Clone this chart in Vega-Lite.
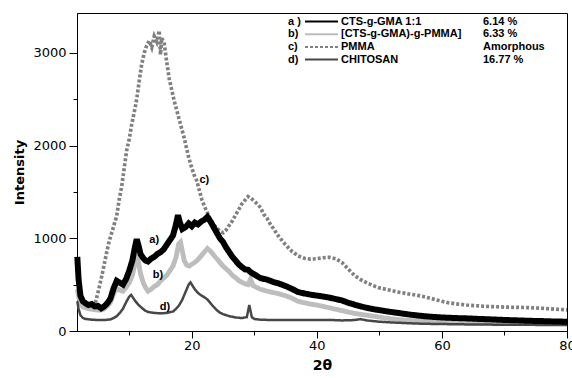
{
  "$schema": "https://vega.github.io/schema/vega-lite/v6.json",
  "width": 490,
  "height": 318,
  "autosize": {"type": "none"},
  "padding": {"left": 77, "top": 13, "right": 5, "bottom": 47},
  "background": "white",
  "config": {
    "view": {"stroke": "black", "strokeWidth": 1},
    "axis": {"grid": false, "domainColor": "black", "tickColor": "black", "labelColor": "black", "titleColor": "black", "labelFont": "DejaVu Sans", "labelFontSize": 13, "titleFont": "DejaVu Sans", "titleFontWeight": "bold"},
    "legend": {"labelFont": "Liberation Sans", "labelFontWeight": "bold", "labelFontSize": 11, "labelColor": "black", "padding": 0, "rowPadding": 0.7, "direction": "vertical", "labelLimit": 300}
  },
  "datasets": {
    "series": [
      {"s": "a", "name": "CTS-g-GMA 1:1", "pct": "6.14 %", "tag": "a )"},
      {"s": "b", "name": "[CTS-g-GMA)-g-PMMA]", "pct": "6.33  %", "tag": "b)"},
      {"s": "c", "name": "PMMA", "pct": "Amorphous", "tag": "c)"},
      {"s": "d", "name": "CHITOSAN", "pct": "16.77 %", "tag": "d)"}
    ],
    "curves": [
      {"s":"c","x":4.4,"y":250},{"s":"c","x":4.8,"y":360},{"s":"c","x":5.2,"y":470},{"s":"c","x":5.6,"y":590},{"s":"c","x":6.0,"y":720},{"s":"c","x":6.4,"y":850},{"s":"c","x":6.8,"y":970},{"s":"c","x":7.2,"y":1060},{"s":"c","x":7.6,"y":1150},{"s":"c","x":8.0,"y":1240},{"s":"c","x":8.4,"y":1420},{"s":"c","x":8.8,"y":1560},{"s":"c","x":9.2,"y":1760},{"s":"c","x":9.6,"y":1950},{"s":"c","x":10.0,"y":2070},{"s":"c","x":10.4,"y":2230},{"s":"c","x":10.8,"y":2360},{"s":"c","x":11.2,"y":2500},{"s":"c","x":11.6,"y":2700},{"s":"c","x":12.0,"y":2880},{"s":"c","x":12.4,"y":3000},{"s":"c","x":12.8,"y":3080},{"s":"c","x":13.2,"y":3130},{"s":"c","x":13.6,"y":3060},{"s":"c","x":14.0,"y":3180},{"s":"c","x":14.4,"y":3120},{"s":"c","x":14.8,"y":3240},{"s":"c","x":15.0,"y":2980},{"s":"c","x":15.2,"y":3160},{"s":"c","x":15.6,"y":3100},{"s":"c","x":16.0,"y":2900},{"s":"c","x":16.4,"y":2720},{"s":"c","x":16.8,"y":2600},{"s":"c","x":17.2,"y":2480},{"s":"c","x":17.6,"y":2380},{"s":"c","x":18.0,"y":2280},{"s":"c","x":18.4,"y":2180},{"s":"c","x":18.8,"y":2080},{"s":"c","x":19.2,"y":1960},{"s":"c","x":19.6,"y":1850},{"s":"c","x":20.0,"y":1760},{"s":"c","x":20.4,"y":1680},{"s":"c","x":20.8,"y":1620},{"s":"c","x":21.2,"y":1520},{"s":"c","x":21.6,"y":1420},{"s":"c","x":22.0,"y":1350},{"s":"c","x":22.4,"y":1290},{"s":"c","x":22.8,"y":1230},{"s":"c","x":23.2,"y":1180},{"s":"c","x":23.6,"y":1140},{"s":"c","x":24.0,"y":1110},{"s":"c","x":24.5,"y":1080},{"s":"c","x":25.0,"y":1060},{"s":"c","x":25.5,"y":1090},{"s":"c","x":26.0,"y":1140},{"s":"c","x":26.5,"y":1190},{"s":"c","x":27.0,"y":1250},{"s":"c","x":27.5,"y":1310},{"s":"c","x":28.0,"y":1370},{"s":"c","x":28.5,"y":1410},{"s":"c","x":29.0,"y":1450},{"s":"c","x":29.5,"y":1430},{"s":"c","x":30.0,"y":1400},{"s":"c","x":30.5,"y":1370},{"s":"c","x":31.0,"y":1330},{"s":"c","x":31.5,"y":1260},{"s":"c","x":32.0,"y":1220},{"s":"c","x":32.5,"y":1160},{"s":"c","x":33.0,"y":1110},{"s":"c","x":33.5,"y":1060},{"s":"c","x":34.0,"y":1010},{"s":"c","x":35.0,"y":930},{"s":"c","x":36.0,"y":860},{"s":"c","x":37.0,"y":810},{"s":"c","x":38.0,"y":785},{"s":"c","x":39.0,"y":775},{"s":"c","x":40.0,"y":780},{"s":"c","x":41.0,"y":790},{"s":"c","x":42.0,"y":795},{"s":"c","x":43.0,"y":780},{"s":"c","x":44.0,"y":740},{"s":"c","x":45.0,"y":670},{"s":"c","x":46.0,"y":600},{"s":"c","x":47.0,"y":555},{"s":"c","x":48.0,"y":520},{"s":"c","x":49.0,"y":490},{"s":"c","x":50.0,"y":465},{"s":"c","x":51.0,"y":450},{"s":"c","x":52.0,"y":435},{"s":"c","x":53.0,"y":420},{"s":"c","x":54.0,"y":408},{"s":"c","x":55.0,"y":396},{"s":"c","x":56.0,"y":386},{"s":"c","x":57.0,"y":372},{"s":"c","x":58.0,"y":356},{"s":"c","x":59.0,"y":338},{"s":"c","x":60.0,"y":320},{"s":"c","x":61.0,"y":305},{"s":"c","x":62.0,"y":295},{"s":"c","x":63.0,"y":287},{"s":"c","x":64.0,"y":280},{"s":"c","x":66.0,"y":270},{"s":"c","x":68.0,"y":263},{"s":"c","x":70.0,"y":258},{"s":"c","x":72.0,"y":255},{"s":"c","x":74.0,"y":252},{"s":"c","x":76.0,"y":245},{"s":"c","x":78.0,"y":236},{"s":"c","x":80.0,"y":228},
      {"s":"b","x":1.7,"y":450},{"s":"b","x":1.9,"y":380},{"s":"b","x":2.2,"y":300},{"s":"b","x":2.6,"y":260},{"s":"b","x":3.0,"y":250},{"s":"b","x":3.5,"y":240},{"s":"b","x":4.0,"y":235},{"s":"b","x":4.5,"y":230},{"s":"b","x":5.0,"y":225},{"s":"b","x":5.5,"y":225},{"s":"b","x":6.0,"y":240},{"s":"b","x":6.5,"y":270},{"s":"b","x":7.0,"y":310},{"s":"b","x":7.5,"y":400},{"s":"b","x":8.0,"y":460},{"s":"b","x":8.5,"y":440},{"s":"b","x":9.0,"y":430},{"s":"b","x":9.5,"y":470},{"s":"b","x":10.0,"y":520},{"s":"b","x":10.5,"y":600},{"s":"b","x":10.9,"y":720},{"s":"b","x":11.2,"y":820},{"s":"b","x":11.5,"y":740},{"s":"b","x":11.8,"y":620},{"s":"b","x":12.2,"y":530},{"s":"b","x":12.6,"y":470},{"s":"b","x":13.0,"y":430},{"s":"b","x":13.5,"y":450},{"s":"b","x":14.0,"y":480},{"s":"b","x":14.5,"y":500},{"s":"b","x":15.0,"y":540},{"s":"b","x":15.5,"y":570},{"s":"b","x":16.0,"y":600},{"s":"b","x":16.5,"y":650},{"s":"b","x":17.0,"y":700},{"s":"b","x":17.5,"y":800},{"s":"b","x":17.9,"y":940},{"s":"b","x":18.2,"y":960},{"s":"b","x":18.5,"y":860},{"s":"b","x":18.8,"y":760},{"s":"b","x":19.2,"y":710},{"s":"b","x":19.6,"y":700},{"s":"b","x":20.0,"y":720},{"s":"b","x":20.5,"y":740},{"s":"b","x":21.0,"y":770},{"s":"b","x":21.5,"y":810},{"s":"b","x":22.0,"y":850},{"s":"b","x":22.5,"y":890},{"s":"b","x":23.0,"y":860},{"s":"b","x":23.5,"y":820},{"s":"b","x":24.0,"y":780},{"s":"b","x":24.5,"y":740},{"s":"b","x":25.0,"y":700},{"s":"b","x":25.5,"y":670},{"s":"b","x":26.0,"y":640},{"s":"b","x":26.5,"y":600},{"s":"b","x":27.0,"y":575},{"s":"b","x":27.5,"y":545},{"s":"b","x":28.0,"y":525},{"s":"b","x":28.5,"y":510},{"s":"b","x":29.0,"y":500},{"s":"b","x":29.4,"y":560},{"s":"b","x":29.8,"y":490},{"s":"b","x":30.5,"y":465},{"s":"b","x":31.0,"y":450},{"s":"b","x":32.0,"y":430},{"s":"b","x":33.0,"y":415},{"s":"b","x":34.0,"y":400},{"s":"b","x":35.0,"y":380},{"s":"b","x":36.0,"y":355},{"s":"b","x":37.0,"y":320},{"s":"b","x":38.0,"y":305},{"s":"b","x":39.0,"y":290},{"s":"b","x":40.0,"y":280},{"s":"b","x":42.0,"y":250},{"s":"b","x":44.0,"y":220},{"s":"b","x":46.0,"y":190},{"s":"b","x":48.0,"y":170},{"s":"b","x":50.0,"y":150},{"s":"b","x":52.0,"y":130},{"s":"b","x":54.0,"y":118},{"s":"b","x":56.0,"y":108},{"s":"b","x":58.0,"y":100},{"s":"b","x":60.0,"y":96},{"s":"b","x":63.0,"y":92},{"s":"b","x":66.0,"y":90},{"s":"b","x":70.0,"y":88},{"s":"b","x":75.0,"y":86},{"s":"b","x":80.0,"y":85},
      {"s":"d","x":1.7,"y":320},{"s":"d","x":1.9,"y":240},{"s":"d","x":2.2,"y":170},{"s":"d","x":2.6,"y":140},{"s":"d","x":3.0,"y":130},{"s":"d","x":4.0,"y":122},{"s":"d","x":5.0,"y":118},{"s":"d","x":6.0,"y":118},{"s":"d","x":7.0,"y":125},{"s":"d","x":7.5,"y":140},{"s":"d","x":8.0,"y":160},{"s":"d","x":8.5,"y":195},{"s":"d","x":9.0,"y":240},{"s":"d","x":9.5,"y":310},{"s":"d","x":10.0,"y":370},{"s":"d","x":10.3,"y":390},{"s":"d","x":10.7,"y":350},{"s":"d","x":11.0,"y":320},{"s":"d","x":11.5,"y":280},{"s":"d","x":12.0,"y":250},{"s":"d","x":12.5,"y":222},{"s":"d","x":13.0,"y":205},{"s":"d","x":14.0,"y":195},{"s":"d","x":15.0,"y":190},{"s":"d","x":16.0,"y":195},{"s":"d","x":17.0,"y":210},{"s":"d","x":17.5,"y":240},{"s":"d","x":18.0,"y":280},{"s":"d","x":18.5,"y":340},{"s":"d","x":19.0,"y":420},{"s":"d","x":19.5,"y":500},{"s":"d","x":19.8,"y":525},{"s":"d","x":20.2,"y":480},{"s":"d","x":20.6,"y":440},{"s":"d","x":21.0,"y":410},{"s":"d","x":21.5,"y":385},{"s":"d","x":22.0,"y":365},{"s":"d","x":22.5,"y":340},{"s":"d","x":23.0,"y":300},{"s":"d","x":23.5,"y":260},{"s":"d","x":24.0,"y":225},{"s":"d","x":24.5,"y":198},{"s":"d","x":25.0,"y":182},{"s":"d","x":26.0,"y":160},{"s":"d","x":27.0,"y":146},{"s":"d","x":28.0,"y":140},{"s":"d","x":28.8,"y":150},{"s":"d","x":29.2,"y":280},{"s":"d","x":29.6,"y":150},{"s":"d","x":30.0,"y":130},{"s":"d","x":31.0,"y":122},{"s":"d","x":32.0,"y":120},{"s":"d","x":34.0,"y":120},{"s":"d","x":36.0,"y":120},{"s":"d","x":38.0,"y":118},{"s":"d","x":40.0,"y":118},{"s":"d","x":42.0,"y":120},{"s":"d","x":44.0,"y":114},{"s":"d","x":46.0,"y":118},{"s":"d","x":47.0,"y":128},{"s":"d","x":48.0,"y":114},{"s":"d","x":50.0,"y":100},{"s":"d","x":52.0,"y":92},{"s":"d","x":54.0,"y":86},{"s":"d","x":56.0,"y":80},{"s":"d","x":58.0,"y":77},{"s":"d","x":60.0,"y":75},{"s":"d","x":65.0,"y":70},{"s":"d","x":70.0,"y":68},{"s":"d","x":75.0,"y":66},{"s":"d","x":80.0,"y":65},
      {"s":"a","x":1.7,"y":800},{"s":"a","x":1.9,"y":560},{"s":"a","x":2.2,"y":380},{"s":"a","x":2.6,"y":320},{"s":"a","x":3.0,"y":300},{"s":"a","x":3.5,"y":280},{"s":"a","x":4.0,"y":290},{"s":"a","x":4.5,"y":265},{"s":"a","x":5.0,"y":270},{"s":"a","x":5.5,"y":245},{"s":"a","x":6.0,"y":265},{"s":"a","x":6.5,"y":300},{"s":"a","x":7.0,"y":350},{"s":"a","x":7.5,"y":460},{"s":"a","x":8.0,"y":540},{"s":"a","x":8.5,"y":520},{"s":"a","x":9.0,"y":500},{"s":"a","x":9.5,"y":560},{"s":"a","x":10.0,"y":650},{"s":"a","x":10.5,"y":760},{"s":"a","x":10.9,"y":900},{"s":"a","x":11.2,"y":990},{"s":"a","x":11.5,"y":920},{"s":"a","x":11.8,"y":830},{"s":"a","x":12.2,"y":790},{"s":"a","x":12.6,"y":760},{"s":"a","x":13.0,"y":750},{"s":"a","x":13.5,"y":780},{"s":"a","x":14.0,"y":800},{"s":"a","x":14.5,"y":830},{"s":"a","x":15.0,"y":850},{"s":"a","x":15.5,"y":880},{"s":"a","x":16.0,"y":930},{"s":"a","x":16.5,"y":980},{"s":"a","x":17.0,"y":1030},{"s":"a","x":17.4,"y":1130},{"s":"a","x":17.8,"y":1250},{"s":"a","x":18.1,"y":1170},{"s":"a","x":18.5,"y":1100},{"s":"a","x":19.0,"y":1120},{"s":"a","x":19.5,"y":1160},{"s":"a","x":20.0,"y":1130},{"s":"a","x":20.5,"y":1170},{"s":"a","x":21.0,"y":1150},{"s":"a","x":21.5,"y":1180},{"s":"a","x":22.0,"y":1200},{"s":"a","x":22.5,"y":1230},{"s":"a","x":23.0,"y":1180},{"s":"a","x":23.5,"y":1120},{"s":"a","x":24.0,"y":1060},{"s":"a","x":24.5,"y":1000},{"s":"a","x":25.0,"y":960},{"s":"a","x":25.5,"y":900},{"s":"a","x":26.0,"y":850},{"s":"a","x":26.5,"y":800},{"s":"a","x":27.0,"y":760},{"s":"a","x":27.5,"y":720},{"s":"a","x":28.0,"y":690},{"s":"a","x":28.5,"y":665},{"s":"a","x":29.0,"y":660},{"s":"a","x":29.5,"y":630},{"s":"a","x":30.0,"y":610},{"s":"a","x":30.5,"y":590},{"s":"a","x":31.0,"y":570},{"s":"a","x":32.0,"y":555},{"s":"a","x":33.0,"y":530},{"s":"a","x":34.0,"y":510},{"s":"a","x":35.0,"y":485},{"s":"a","x":36.0,"y":455},{"s":"a","x":37.0,"y":420},{"s":"a","x":38.0,"y":405},{"s":"a","x":39.0,"y":392},{"s":"a","x":40.0,"y":382},{"s":"a","x":41.0,"y":372},{"s":"a","x":42.0,"y":360},{"s":"a","x":43.0,"y":345},{"s":"a","x":44.0,"y":330},{"s":"a","x":45.0,"y":305},{"s":"a","x":46.0,"y":285},{"s":"a","x":47.0,"y":265},{"s":"a","x":48.0,"y":250},{"s":"a","x":49.0,"y":236},{"s":"a","x":50.0,"y":225},{"s":"a","x":51.0,"y":214},{"s":"a","x":52.0,"y":204},{"s":"a","x":53.0,"y":195},{"s":"a","x":54.0,"y":185},{"s":"a","x":55.0,"y":176},{"s":"a","x":56.0,"y":168},{"s":"a","x":57.0,"y":161},{"s":"a","x":58.0,"y":155},{"s":"a","x":59.0,"y":150},{"s":"a","x":60.0,"y":146},{"s":"a","x":62.0,"y":140},{"s":"a","x":64.0,"y":136},{"s":"a","x":66.0,"y":130},{"s":"a","x":68.0,"y":125},{"s":"a","x":70.0,"y":119},{"s":"a","x":72.0,"y":115},{"s":"a","x":74.0,"y":110},{"s":"a","x":76.0,"y":107},{"s":"a","x":78.0,"y":103},{"s":"a","x":80.0,"y":100}
    ],
    "notes": [
      {"x": 14.0, "y": 983, "t": "a)"},
      {"x": 14.6, "y": 605, "t": "b)"},
      {"x": 22.0, "y": 1630, "t": "c)"},
      {"x": 15.7, "y": 260, "t": "d)"}
    ]
  },
  "encoding": {
    "x": {
      "field": "x", "type": "quantitative",
      "scale": {"domain": [1.65, 80], "nice": false, "zero": false},
      "axis": {
        "title": "2θ", "titleFontSize": 14, "titlePadding": 6,
        "values": [10, 20, 30, 40, 50, 60, 70, 80],
        "labelExpr": "datum.value % 20 === 0 ? datum.label : ''",
        "tickSize": {"condition": {"test": "datum.value % 20 === 0", "value": 7}, "value": 4},
        "labelPadding": 1, "labelFlush": false
      }
    },
    "y": {
      "field": "y", "type": "quantitative",
      "scale": {"domain": [0, 3430], "nice": false},
      "axis": {
        "title": "Intensity", "titleFontSize": 13, "titlePadding": 6,
        "values": [0, 500, 1000, 1500, 2000, 2500, 3000],
        "format": "d",
        "labelExpr": "datum.value % 1000 === 0 ? datum.label : ''",
        "tickSize": {"condition": {"test": "datum.value % 1000 === 0", "value": 8}, "value": 4},
        "labelPadding": 3
      }
    }
  },
  "layer": [
    {
      "data": {"name": "curves"},
      "transform": [
        {"lookup": "s", "from": {"data": {"name": "series"}, "key": "s", "fields": ["name", "pct", "tag"]}}
      ],
      "mark": {"type": "line", "interpolate": "linear"},
      "encoding": {
        "color": {
          "field": "name", "type": "nominal",
          "scale": {"domain": ["CTS-g-GMA 1:1", "[CTS-g-GMA)-g-PMMA]", "PMMA", "CHITOSAN"], "range": ["#000000", "#bdbdbd", "#808080", "#474747"]},
          "legend": {"orient": "none", "legendX": 239, "legendY": 3, "title": null, "symbolType": "M-4.714,0H4.714", "symbolSize": 49, "symbolStrokeWidth": 2, "labelOffset": 14}
        },
        "strokeDash": {
          "field": "name", "type": "nominal",
          "scale": {"domain": ["CTS-g-GMA 1:1", "[CTS-g-GMA)-g-PMMA]", "PMMA", "CHITOSAN"], "range": [[1, 0], [1, 0], [3, 2], [1, 0]]},
          "legend": {"orient": "none", "legendX": 239, "legendY": 3, "title": null, "symbolType": "M-4.714,0H4.714", "symbolSize": 49, "symbolStrokeWidth": 2, "labelOffset": 14}
        },
        "opacity": {
          "field": "pct", "type": "nominal",
          "scale": {"domain": ["6.14 %", "6.33  %", "Amorphous", "16.77 %"], "range": [1, 1]},
          "legend": {"orient": "none", "legendX": 395, "legendY": 3, "title": null, "symbolSize": 0, "symbolStrokeWidth": 0, "labelOffset": 0}
        },
        "strokeWidth": {
          "field": "tag", "type": "nominal",
          "scale": {"domain": ["a )", "b)", "c)", "d)"], "range": [6, 2.5]},
          "legend": {"orient": "none", "legendX": 200, "legendY": 3, "title": null, "symbolSize": 0, "symbolOpacity": 0, "labelOffset": 0}
        }
      }
    },
    {
      "data": {"name": "notes"},
      "mark": {"type": "text", "font": "Liberation Sans", "fontWeight": "bold", "fontSize": 11, "color": "black", "align": "center", "baseline": "middle"},
      "encoding": {"text": {"field": "t"}}
    }
  ]
}
